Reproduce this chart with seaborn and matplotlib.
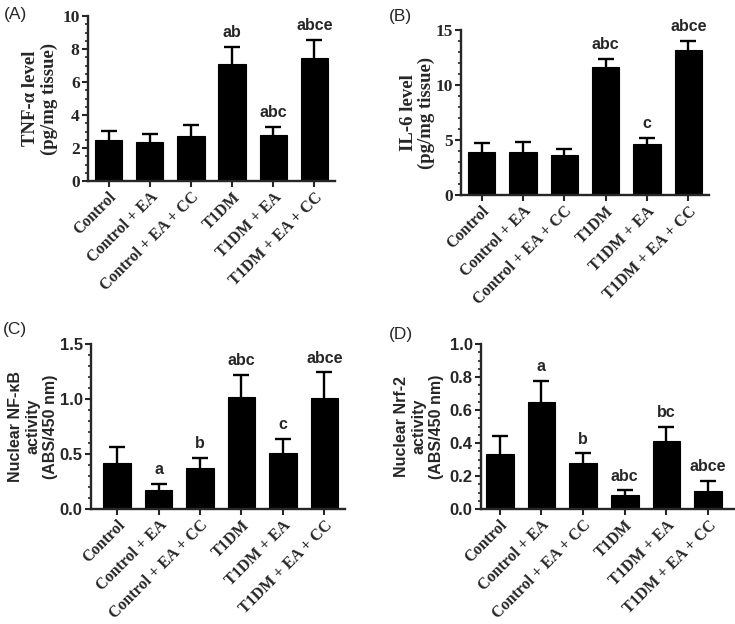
import matplotlib
matplotlib.use('Agg')
import matplotlib.pyplot as plt
from matplotlib.ticker import MultipleLocator, FormatStrFormatter
import numpy as np
import pandas as pd
import seaborn as sns

sns.set_style('ticks')

serif = ['Liberation Serif', 'DejaVu Serif']
sans = ['Liberation Sans', 'DejaVu Sans']

groups = ['Control', 'Control + EA', 'Control + EA + CC', 'T1DM', 'T1DM + EA', 'T1DM + EA + CC']

# (A) TNF-alpha
tnf_mean = [2.47, 2.39, 2.72, 7.08, 2.76, 7.44]
tnf_err = [0.58, 0.46, 0.70, 1.03, 0.50, 1.13]
tnf_sig = ['', '', '', 'ab', 'abc', 'abce']

# (B) IL-6
il6_mean = [3.88, 3.95, 3.65, 11.68, 4.64, 13.16]
il6_err = [0.82, 0.85, 0.55, 0.67, 0.56, 0.86]
il6_sig = ['', '', '', 'abc', 'c', 'abce']

# (C) NF-kB
nfkb_mean = [0.42, 0.172, 0.374, 1.016, 0.511, 1.011]
nfkb_err = [0.14, 0.055, 0.088, 0.206, 0.124, 0.232]
nfkb_sig = ['', 'a', 'b', 'abc', 'c', 'abce']

# (D) Nrf-2
nrf2_mean = [0.335, 0.648, 0.281, 0.085, 0.41, 0.109]
nrf2_err = [0.107, 0.13, 0.056, 0.028, 0.089, 0.061]
nrf2_sig = ['', 'a', 'b', 'abc', 'bc', 'abce']


def panel(ax, mean, err, sig, ylabel, ymax, major, minor, fmt, yfont, xlim,
          ylsize, ytsize, lpad, lspace, sigoff=7):
    df = pd.DataFrame({'group': groups, 'value': mean})
    sns.barplot(data=df, x='group', y='value', color='black', width=0.66,
                saturation=1, errorbar=None, edgecolor='black', linewidth=0.8, ax=ax)
    x = np.arange(len(groups))
    eb = ax.errorbar(x, mean, yerr=[np.zeros(len(mean)), err], fmt='none',
                     ecolor='black', elinewidth=1.7, capsize=5.5, capthick=1.7)
    eb[1][0].set_visible(False)  # only the upper cap
    for i in range(len(groups)):
        if sig[i]:
            ax.annotate(sig[i], (i, mean[i] + err[i]), xytext=(0, sigoff),
                        textcoords='offset points', ha='center', va='baseline',
                        fontsize=11.5, fontweight='bold', family=sans)
    ax.set_xlim(*xlim)
    ax.set_ylim(0, ymax)
    ax.yaxis.set_major_locator(MultipleLocator(major))
    ax.yaxis.set_minor_locator(MultipleLocator(minor))
    ax.yaxis.set_major_formatter(FormatStrFormatter(fmt))
    ax.set_xlabel('')
    ax.set_ylabel(ylabel, fontsize=ylsize, fontweight='bold', family=yfont,
                  linespacing=lspace, labelpad=lpad)
    ax.set_xticks(x)
    ax.set_xticklabels(groups, rotation=45, ha='right', rotation_mode='anchor',
                       fontsize=11.5, fontweight='bold', family=serif)
    for lab in ax.get_yticklabels():
        lab.set_fontweight('bold')
        lab.set_family(yfont)
        lab.set_fontsize(ytsize)
    ax.tick_params(axis='both', which='major', length=4.5, width=1.5, direction='out', pad=1.5)
    ax.tick_params(axis='y', which='minor', length=2.5, width=1.2, direction='out')
    ax.tick_params(axis='x', which='minor', length=0)
    for s in ['left', 'bottom']:
        ax.spines[s].set_linewidth(1.7)
    sns.despine(ax=ax)


fig = plt.figure(figsize=(7.35, 6.24), dpi=100)
W, H = 735.0, 624.0


def add_ax(left, right, top, bottom):
    return fig.add_axes([left / W, 1 - bottom / H, (right - left) / W, (bottom - top) / H])


axA = add_ax(88, 335, 16, 181)
axB = add_ax(461, 709, 30, 195)
axC = add_ax(91, 345, 344, 509)
axD = add_ax(481, 734, 344, 509)

panel(axA, tnf_mean, tnf_err, tnf_sig, 'TNF-\u03b1 level\n(pg/mg tissue)',
      10, 2, 0.5, '%d', serif, (-0.5, 5.5), 13.5, 12.5, 3, 1.1)
panel(axB, il6_mean, il6_err, il6_sig, 'IL-6 level\n(pg/mg tissue)',
      15, 5, 1, '%d', serif, (-0.5, 5.5), 13.5, 12.5, 0, 1.1)
panel(axC, nfkb_mean, nfkb_err, nfkb_sig, 'Nuclear NF-\u03baB\nactivity\n(ABS/450 nm)',
      1.5, 0.5, 0.1, '%.1f', sans, (-0.63, 5.5), 11.5, 12, 1, 1.2)
panel(axD, nrf2_mean, nrf2_err, nrf2_sig, 'Nuclear Nrf-2\nactivity\n(ABS/450 nm)',
      1.0, 0.2, 0.05, '%.1f', sans, (-0.45, 5.62), 11.5, 12, 4, 1.2)

for lab, (px, py) in zip(['(A)', '(B)', '(C)', '(D)'],
                         [(4, 7), (389, 9), (3, 322), (389, 327)]):
    fig.text(px / W, 1 - py / H, lab, fontsize=12.5, family=sans, ha='left', va='top')

fig.savefig('out.png', dpi=100, facecolor='white')
